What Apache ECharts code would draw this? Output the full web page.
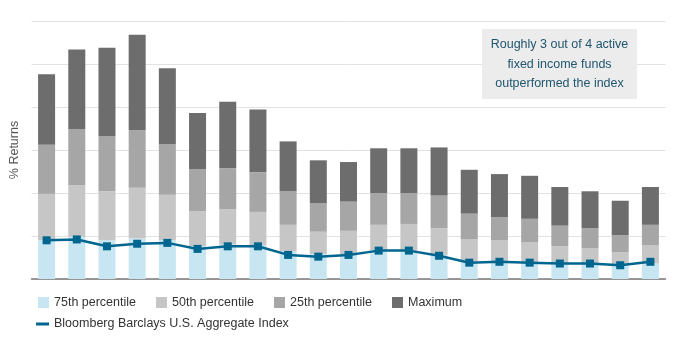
<!DOCTYPE html>
<html>
<head>
<meta charset="utf-8">
<script src="https://cdn.jsdelivr.net/npm/echarts@6/dist/echarts.min.js"></script>
<style>
  html, body { margin: 0; padding: 0; background: #fff; }
  #chart { width: 675px; height: 351px; }
</style>
</head>
<body>
<div id="chart"></div>
<script>
// percentile levels of active fixed income funds vs the index, per period
const periods = ["P1", "P2", "P3", "P4", "P5", "P6", "P7", "P8", "P9", "P10", "P11",
  "P12", "P13", "P14", "P15", "P16", "P17", "P18", "P19", "P20", "P21"];
const p75 = [4.5, 4.9, 4.5, 4.7, 4.5, 3.8, 4.0, 3.9, 3.2, 2.9, 2.9, 3.3, 3.3, 2.8, 2.0, 2.0, 1.8, 1.8, 1.7, 1.7, 1.8];
const p50 = [9.9, 10.9, 10.2, 10.6, 9.8, 7.9, 8.1, 7.8, 6.3, 5.5, 5.6, 6.3, 6.4, 5.9, 4.6, 4.5, 4.3, 3.8, 3.6, 3.1, 3.9];
const p25 = [15.6, 17.4, 16.6, 17.3, 15.7, 12.8, 12.9, 12.4, 10.2, 8.8, 9.0, 10.0, 10.0, 9.7, 7.6, 7.2, 7.0, 6.2, 5.9, 5.1, 6.3];
const pMax = [23.8, 26.7, 26.9, 28.4, 24.5, 19.3, 20.6, 19.7, 16.0, 13.8, 13.6, 15.2, 15.2, 15.3, 12.7, 12.2, 12.0, 10.7, 10.2, 9.1, 10.7];
const aggIndex = [4.5, 4.6, 3.8, 4.1, 4.2, 3.5, 3.8, 3.8, 2.8, 2.6, 2.8, 3.3, 3.3, 2.7, 1.9, 2.0, 1.9, 1.8, 1.8, 1.6, 2.0];

const FONT = "'Liberation Sans', Arial, sans-serif";
const diff = (hi, lo) => hi.map((v, i) => +(v - lo[i]).toFixed(2));

const barSeries = (name, data, color) => ({
  name, type: "bar", stack: "pct", data, barWidth: 17,
  itemStyle: { color }, emphasis: { disabled: true },
});

const chart = echarts.init(document.getElementById("chart"), null, { renderer: "canvas" });
chart.setOption({
  animation: false,
  grid: { left: 31.5, right: 9.5, top: 21, bottom: 72, outerBoundsMode: "none" },
  xAxis: {
    type: "category", data: periods,
    axisLine: { lineStyle: { color: "#7a7a7a", width: 1.5 } },
    axisTick: { show: false }, axisLabel: { show: false },
  },
  yAxis: {
    type: "value", min: 0, max: 30, interval: 5,
    name: "% Returns", nameLocation: "middle", nameGap: 10, nameRotate: 90,
    nameTextStyle: { color: "#555", fontSize: 12.5, fontFamily: FONT },
    axisLabel: { show: false },
    splitLine: { lineStyle: { color: "#e2e2e2" } },
  },
  legend: [
    {
      data: ["75th percentile", "50th percentile", "25th percentile", "Maximum"],
      left: 38, top: 296, padding: 0, icon: "rect", itemWidth: 11, itemHeight: 11, itemGap: 20,
      textStyle: { color: "#333", fontSize: 12.5, fontFamily: FONT },
    },
    {
      data: ["Bloomberg Barclays U.S. Aggregate Index"],
      left: 36, top: 317.5, padding: 0, icon: "rect", itemWidth: 13, itemHeight: 3,
      textStyle: { color: "#333", fontSize: 12.5, fontFamily: FONT },
    },
  ],
  graphic: [
    {
      type: "rect", left: 482, top: 29, z: 100, shape: { width: 155, height: 70 },
      style: { fill: "#ececec" }, silent: true,
    },
    {
      type: "text", z: 101, silent: true,
      style: {
        x: 559.5, y: 35, align: "center", verticalAlign: "top",
        text: "Roughly 3 out of 4 active\nfixed income funds\noutperformed the index",
        lineHeight: 19.5, font: "12.5px " + FONT, fill: "#21566f",
      },
    },
  ],
  series: [
    barSeries("75th percentile", p75, "#c8e6f2"),
    barSeries("50th percentile", diff(p50, p75), "#c6c6c6"),
    barSeries("25th percentile", diff(p25, p50), "#a6a6a6"),
    barSeries("Maximum", diff(pMax, p25), "#6d6d6d"),
    {
      name: "Bloomberg Barclays U.S. Aggregate Index", type: "line", data: aggIndex,
      symbol: "rect", symbolSize: 8, z: 5,
      lineStyle: { color: "#00668f", width: 2.5 },
      itemStyle: { color: "#00668f" },
      emphasis: { disabled: true },
    },
  ],
});
</script>
</body>
</html>
